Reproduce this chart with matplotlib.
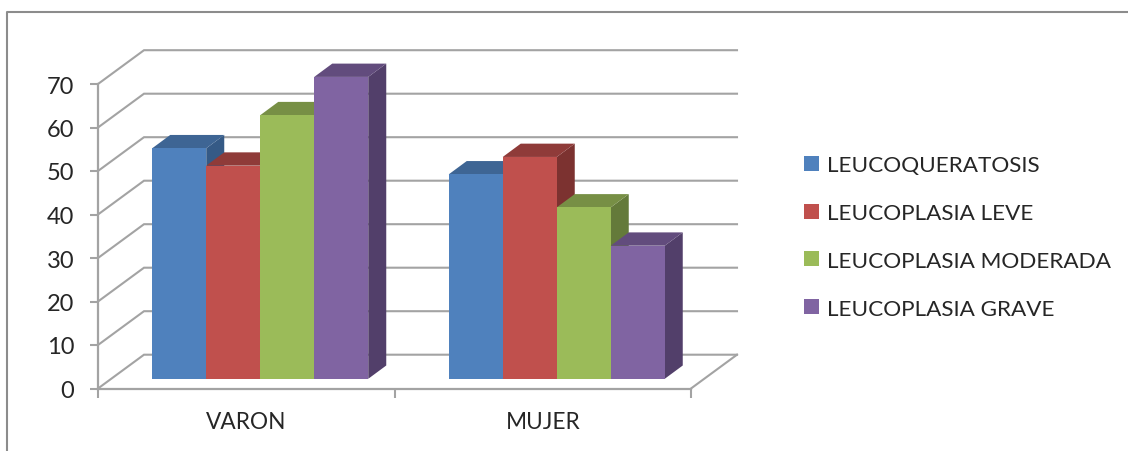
import matplotlib
matplotlib.use('Agg')
import matplotlib.pyplot as plt
from matplotlib.lines import Line2D
from matplotlib.patches import Patch, Polygon

plt.rcParams['font.family'] = ['Lato', 'DejaVu Sans']

# datos
categorias = ['VARON', 'MUJER']
series = ['LEUCOQUERATOSIS', 'LEUCOPLASIA LEVE', 'LEUCOPLASIA MODERADA', 'LEUCOPLASIA GRAVE']
leucoqueratosis = [53, 47]
leve = [49, 51]
moderada = [60.6, 39.4]
grave = [69.4, 30.6]
valores = [leucoqueratosis, leve, moderada, grave]
yticks = [0, 10, 20, 30, 40, 50, 60, 70]

frente = ['#4F81BD', '#C0504D', '#9BBB59', '#8064A2']
techo = ['#3E6594', '#8F3B39', '#778F45', '#624C7D']
lado = ['#355A86', '#7C3230', '#647A3A', '#523F6A']
gris = '#A3A3A3'
texto = '#262626'

W, H = 1128, 452
fig = plt.figure(figsize=(W / 100, H / 100), dpi=100)
ax = fig.add_axes([98 / W, (H - 389.5) / H, 593 / W, 304.5 / H])
ax.set_xlim(0, 2)
ax.set_ylim(0, 70)
ax.patch.set_visible(False)

# profundidad del 3D en unidades de datos
px_x = 2 / 593
px_y = 70 / 304.5
prof_x = 46 * px_x
prof_y = 33.8 * px_y

# paredes y suelo
for v in yticks:
    ax.plot([0, prof_x, 2 + prof_x], [v, v + prof_y, v + prof_y], color=gris,
            lw=1.5, clip_on=False, zorder=1, solid_joinstyle='miter')
ax.plot([2, 2 + prof_x], [0, prof_y], color=gris, lw=1.5, clip_on=False, zorder=1)

# barras
ancho = 54 * px_x
base_x = 14 * px_x
base_y = 9.7 * px_y
bar_x = 18 * px_x
bar_y = 13.3 * px_y
z = 2
for g, cat in enumerate(categorias):
    centro = g + 0.5 + base_x
    for s in range(len(series)):
        v = valores[s][g]
        x0 = centro + (s - 2) * ancho
        x1 = x0 + ancho
        y0 = base_y
        y1 = base_y + v
        ax.add_patch(Polygon([(x1, y0), (x1 + bar_x, y0 + bar_y), (x1 + bar_x, y1 + bar_y), (x1, y1)],
                             facecolor=lado[s], edgecolor='none', clip_on=False, zorder=z))
        ax.add_patch(Polygon([(x0, y1), (x0 + bar_x, y1 + bar_y), (x1 + bar_x, y1 + bar_y), (x1, y1)],
                             facecolor=techo[s], edgecolor='none', clip_on=False, zorder=z))
        ax.bar(x0, v, width=ancho, bottom=y0, align='edge', color=frente[s], clip_on=False, zorder=z + 0.5)
        z += 1

# ejes
for lado_eje in ['top', 'right']:
    ax.spines[lado_eje].set_visible(False)
for lado_eje in ['left', 'bottom']:
    ax.spines[lado_eje].set_color(gris)
    ax.spines[lado_eje].set_linewidth(1.6)
ax.set_yticks(yticks)
ax.set_xticks([0, 1, 2])
ax.set_xticklabels([])
ax.set_xticks([0.5, 1.5], minor=True)
ax.set_xticklabels(categorias, minor=True)
ax.tick_params(axis='y', length=6, width=1.5, color=gris, pad=11, labelsize=17, labelcolor=texto)
ax.tick_params(axis='x', which='major', length=6.5, width=1.5, color=gris)
ax.tick_params(axis='x', which='minor', length=0, pad=16, labelsize=16.3, labelcolor=texto)

# leyenda
handles = [Patch(facecolor=c, edgecolor='none') for c in frente]
fig.legend(handles, series, loc='center left', bbox_to_anchor=(784 / W, 1 - 238 / H), frameon=False,
           fontsize=16.2, labelcolor=texto, handlelength=0.645, handleheight=0.645,
           handletextpad=0.35, labelspacing=1.23)

# marco
fig.add_artist(Line2D([7 / W, 7 / W, 1], [0, 1 - 12.5 / H, 1 - 12.5 / H], color='#8C8C8C', lw=1.5))

fig.savefig('out.png', dpi=100)
